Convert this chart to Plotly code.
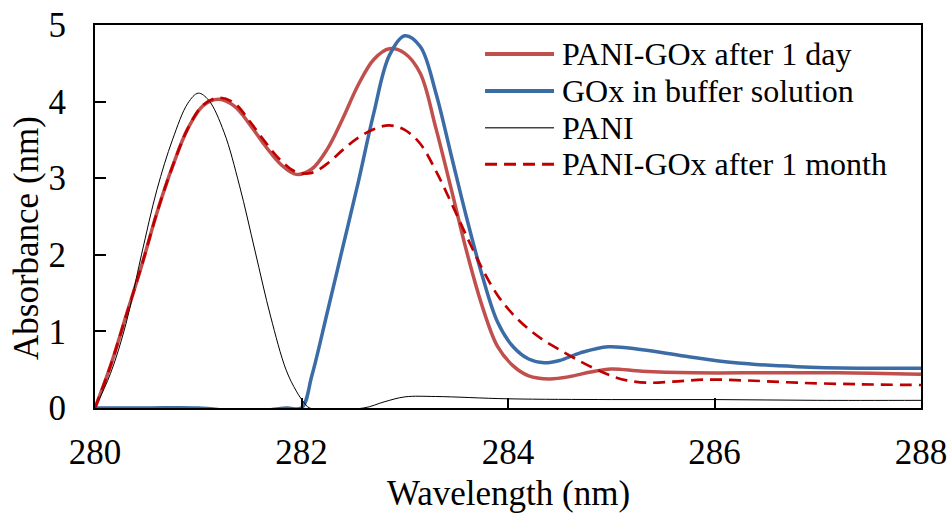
import plotly.graph_objects as go

# ---------------- data ----------------
day_x = [280.0, 280.15, 280.3, 280.45, 280.6, 280.75, 280.9, 281.05, 281.2, 281.35, 281.5,
         281.65, 281.8, 281.95, 282.1, 282.25, 282.4, 282.55, 282.7, 282.85, 283.0,
         283.15, 283.3, 283.45, 283.6, 283.75, 283.9, 284.05, 284.2, 284.4, 284.6,
         284.8, 285.0, 285.3, 285.8, 286.5, 287.2, 288.0]
day_y = [0.0, 0.55, 1.2, 1.85, 2.55, 3.15, 3.65, 3.95, 4.03, 3.94, 3.7,
         3.42, 3.18, 3.05, 3.12, 3.38, 3.78, 4.22, 4.55, 4.69, 4.63,
         4.37, 3.66, 2.86, 2.04, 1.33, 0.8, 0.55, 0.42, 0.38, 0.41,
         0.47, 0.51, 0.48, 0.46, 0.46, 0.46, 0.44]

gox_x = [280.0, 280.5, 281.0, 281.5, 281.85, 282.0, 282.1, 282.25, 282.4, 282.55, 282.7,
         282.85, 283.0, 283.15, 283.3, 283.45, 283.6, 283.75, 283.9, 284.05, 284.2,
         284.35, 284.5, 284.7, 284.97, 285.3, 285.7, 286.2, 286.8, 287.4, 288.0]
gox_y = [0.0, 0.0, 0.0, -0.05, 0.0, 0.0, 0.42, 1.25, 2.1, 2.95, 3.85,
         4.6, 4.86, 4.72, 4.12, 3.3, 2.48, 1.73, 1.12, 0.8, 0.64,
         0.59, 0.62, 0.72, 0.80, 0.76, 0.68, 0.59, 0.54, 0.52, 0.52]

pani_x = [280.0, 280.15, 280.3, 280.45, 280.6, 280.75, 280.9, 281.0, 281.1, 281.25, 281.4,
          281.55, 281.7, 281.85, 281.95, 282.02, 282.08, 282.6, 282.8, 283.0, 283.3,
          284.0, 285.0, 286.0, 287.0, 288.0]
pani_y = [0.0, 0.45, 1.1, 2.0, 2.85, 3.5, 3.98, 4.11, 4.02, 3.6, 2.9,
          2.05, 1.2, 0.5, 0.22, 0.08, 0.0, 0.0, 0.08, 0.145, 0.15,
          0.12, 0.11, 0.11, 0.1, 0.1]

month_x = [280.0, 280.15, 280.3, 280.45, 280.6, 280.75, 280.9, 281.05, 281.2, 281.35, 281.5,
           281.65, 281.8, 281.95, 282.1, 282.25, 282.4, 282.55, 282.7, 282.85, 283.0,
           283.15, 283.3, 283.45, 283.6, 283.75, 283.9, 284.05, 284.2, 284.35, 284.5,
           284.67, 284.83, 285.0, 285.15, 285.35, 285.6, 285.9, 286.3, 286.8, 287.4, 288.0]
month_y = [0.0, 0.55, 1.2, 1.85, 2.55, 3.15, 3.65, 3.96, 4.05, 3.98, 3.74,
           3.47, 3.23, 3.08, 3.07, 3.19, 3.37, 3.53, 3.64, 3.69, 3.63,
           3.45, 3.1, 2.68, 2.24, 1.82, 1.47, 1.22, 1.03, 0.88, 0.76,
           0.63, 0.52, 0.42, 0.36, 0.33, 0.345, 0.37, 0.36, 0.33, 0.31, 0.30]

names = ["PANI-GOx after 1 day", "GOx in buffer solution", "PANI", "PANI-GOx after 1 month"]
x_ticks = [280, 282, 284, 286, 288]
y_ticks = [0, 1, 2, 3, 4, 5]

# ---------------- styles ----------------
FONT = "Liberation Serif, Times New Roman, serif"
c_day = "#C0504D"
c_gox = "#3C6CA6"
c_pani = "#000000"
c_month = "#C00000"
SM = 1.0

fig = go.Figure()
fig.add_trace(go.Scatter(x=day_x, y=day_y, name=names[0], mode="lines",
                         line=dict(color=c_day, width=3.5, shape="spline", smoothing=SM)))
fig.add_trace(go.Scatter(x=gox_x, y=gox_y, name=names[1], mode="lines",
                         line=dict(color=c_gox, width=3.5, shape="spline", smoothing=SM)))
fig.add_trace(go.Scatter(x=pani_x, y=pani_y, name=names[2], mode="lines",
                         line=dict(color=c_pani, width=1, shape="spline", smoothing=SM)))
fig.add_trace(go.Scatter(x=month_x, y=month_y, name=names[3], mode="lines",
                         line=dict(color=c_month, width=2.7, dash="12px,7px",
                                   shape="spline", smoothing=SM)))

# ---------------- custom legend (long line samples as in the reference) ----------------
leg_rows = [0.9243, 0.8277, 0.7318, 0.6363]
leg_styles = [dict(color=c_day, width=4), dict(color=c_gox, width=4),
              dict(color="#444444", width=1.5), dict(color=c_month, width=3, dash="12px,7px")]
shapes = []
annotations = []
for nm, yy, st in zip(names, leg_rows, leg_styles):
    shapes.append(dict(type="line", xref="paper", yref="paper", x0=0.4722, x1=0.5557,
                       y0=yy, y1=yy, line=st))
    annotations.append(dict(text=nm, xref="paper", yref="paper", x=0.5635, y=yy,
                            xanchor="left", yanchor="middle", showarrow=False,
                            font=dict(family=FONT, size=32, color="#000")))

annotations.append(dict(text="Absorbance (nm)", xref="paper", yref="paper",
                        x=-0.083, y=0.445, textangle=-90, showarrow=False,
                        xanchor="center", yanchor="middle",
                        font=dict(family=FONT, size=35, color="#000")))
annotations.append(dict(text="Wavelength (nm)", xref="paper", yref="paper",
                        x=0.5, y=-0.222, showarrow=False,
                        xanchor="center", yanchor="middle",
                        font=dict(family=FONT, size=35, color="#000")))

fig.update_layout(
    width=948, height=513,
    margin=dict(l=95, r=27, t=25, b=105, autoexpand=False),
    paper_bgcolor="white", plot_bgcolor="white",
    showlegend=False,
    font=dict(family=FONT, size=35, color="#000"),
    shapes=shapes, annotations=annotations,
    xaxis=dict(range=[280, 288], tickvals=x_ticks, ticktext=[str(v) for v in x_ticks],
               showgrid=False, zeroline=False, showline=True, linecolor="#000", linewidth=2,
               mirror=True, ticks="inside", ticklen=10, tickwidth=2, tickcolor="#000",
               automargin=False,
               ticklabelstandoff=12, tickfont=dict(family=FONT, size=35, color="#000")),
    yaxis=dict(range=[0, 5], tickvals=y_ticks, ticktext=[str(v) for v in y_ticks],
               showgrid=False, zeroline=False, showline=True, linecolor="#000", linewidth=2,
               mirror=True, ticks="inside", ticklen=11, tickwidth=2, tickcolor="#000",
               automargin=False,
               ticklabelstandoff=20, tickfont=dict(family=FONT, size=35, color="#000")),
)

fig.write_html("out.html", config={"displayModeBar": False},
               post_script="document.body.style.margin='0';document.body.style.overflow='hidden';")
